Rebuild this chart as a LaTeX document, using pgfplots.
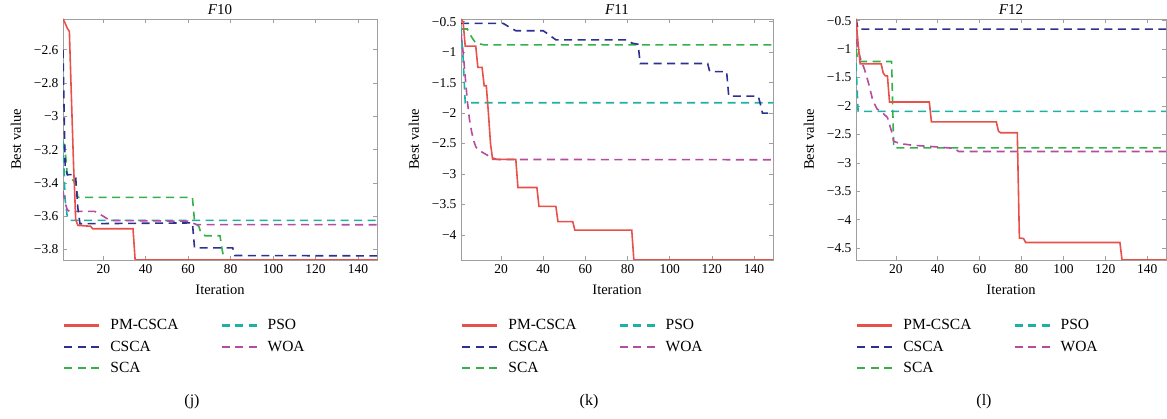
\documentclass[border=0pt]{standalone}
\usepackage{fontspec}
\setmainfont{Liberation Serif}
\usepackage{pgfplots}
\pgfplotsset{compat=1.18}

\definecolor{cPM}{HTML}{E8504A}
\definecolor{cCSCA}{HTML}{2E3090}
\definecolor{cSCA}{HTML}{35B04A}
\definecolor{cPSO}{HTML}{1DB1A6}
\definecolor{cWOA}{HTML}{B54CA0}

\pgfplotsset{
  conv/.style={
    scale only axis, width=312pt, height=241pt,
    xmin=1, xmax=149,
    xtick={20,40,...,140},
    xticklabels={20,40,60,80,100,120,140},
    tick align=inside, major tick length=4pt,
    axis line style={gray!75, line width=0.6pt},
    every tick/.style={gray!75, line width=0.6pt},
    tick label style={font=\fontsize{13.5}{16}\selectfont},
    xticklabel style={yshift=-1pt},
    yticklabel style={xshift=-1pt},
    every axis title shift=0pt,
    title style={at={(axis description cs:0.5,1)}, anchor=center, yshift=9pt,
                 font=\fontsize{15}{18}\selectfont},
    xlabel={Iteration},
    xlabel style={at={(axis description cs:0.5,0)}, anchor=center, yshift=-30pt,
                  font=\fontsize{14.5}{17}\selectfont},
    ylabel={Best value},
    ylabel style={at={([xshift=-47pt]axis description cs:0,0.5)}, anchor=center,
                  font=\fontsize{14.5}{17}\selectfont},
    legend columns=2,
    legend cell align=left,
    legend style={draw=none, fill=none, inner sep=0pt,
      at={([yshift=-57.5pt]axis description cs:0,0)}, anchor=north west,
      font=\fontsize{15.5}{18}\selectfont, row sep=5.5pt,
      /tikz/every odd column/.append style={column sep=8pt},
      /tikz/every even column/.append style={column sep=40pt}},
    legend image code/.code={\draw[#1, line width=2.2pt] (0pt,0pt) -- (35pt,0pt);},
    every axis plot/.append style={line width=1.6pt},
  },
  dsh/.style={dash pattern=on 8pt off 5.5pt},
}

% legend entries shared by the three panels
\newcommand{\convlegend}{%
  \addlegendimage{cPM, solid}\addlegendentry{PM-CSCA}
  \addlegendimage{cPSO, dsh}\addlegendentry{PSO}
  \addlegendimage{cCSCA, dsh}\addlegendentry{CSCA}
  \addlegendimage{cWOA, dsh}\addlegendentry{WOA}
  \addlegendimage{cSCA, dsh}\addlegendentry{SCA}
}

\begin{document}
\begin{tikzpicture}
\path[use as bounding box] (0pt,0pt) rectangle (1167pt,419pt);

% ---------------- F10 ----------------
\begin{axis}[conv, at={(63pt,159pt)}, width=314pt,
  title={\textit{F}10},
  ymin=-3.8628, ymax=-2.415,
  ytick={-3.8,-3.6,-3.4,-3.2,-3,-2.8,-2.6},
  yticklabels={−3.8,−3.6,−3.4,−3.2,−3,−2.8,−2.6}]
\convlegend
\addplot[cSCA, dsh, forget plot] coordinates {
 (1,-3.15) (2,-3.2) (3,-3.35) (7,-3.4) (8,-3.487) (62,-3.487) (63,-3.63)
 (64,-3.65) (65,-3.66) (66,-3.7) (68,-3.717) (75,-3.717) (76,-3.80)
 (77,-3.8628) (150,-3.8628)};
\addplot[cPSO, dsh, forget plot] coordinates {
 (1,-3.15) (2,-3.5) (3,-3.6) (4,-3.625) (150,-3.625)};
\addplot[cWOA, dsh, forget plot] coordinates {
 (1,-3.45) (2,-3.52) (3,-3.56) (4,-3.571) (16,-3.571) (20,-3.6) (23,-3.625)
 (60,-3.63) (64,-3.65) (150,-3.651)};
\addplot[cCSCA, dsh, forget plot] coordinates {
 (1,-2.6) (2,-3.3) (3,-3.35) (6,-3.35) (7,-3.37) (8,-3.55) (9,-3.645)
 (62,-3.64) (63,-3.79) (81,-3.79) (82,-3.836) (150,-3.838)};
\addplot[cPM, solid, forget plot] coordinates {
 (1,-2.415) (2,-2.44) (3,-2.47) (4,-2.49) (5,-2.9) (6,-3.3) (7,-3.62)
 (8,-3.655) (14,-3.66) (15,-3.675) (34,-3.675) (35,-3.8628) (150,-3.8628)};
\end{axis}

% ---------------- F11 ----------------
\begin{axis}[conv, at={(461pt,159pt)}, width=312pt,
  title={\textit{F}11},
  ymin=-4.41, ymax=-0.455,
  ytick={-4,-3.5,-3,-2.5,-2,-1.5,-1,-0.5},
  yticklabels={−4,−3.5,−3,−2.5,−2,−1.5,−1,−0.5}]
\convlegend
\addplot[cSCA, dsh, forget plot] coordinates {
 (1,-0.62) (4,-0.62) (6,-0.75) (8,-0.85) (12,-0.88) (150,-0.88)};
\addplot[cPSO, dsh, forget plot] coordinates {
 (1,-0.6) (2,-1.1) (3,-1.83) (150,-1.83)};
\addplot[cWOA, dsh, forget plot] coordinates {
 (1,-0.7) (2,-1.0) (3,-1.4) (4,-1.8) (5,-2.1) (6,-2.3) (7,-2.45) (8,-2.55)
 (9,-2.6) (12,-2.66) (15,-2.72) (18,-2.76) (150,-2.765)};
\addplot[cCSCA, dsh, forget plot] coordinates {
 (1,-0.527) (21,-0.527) (24,-0.59) (27,-0.648) (40,-0.648) (43,-0.72)
 (46,-0.797) (80,-0.797) (82,-0.85) (85,-0.87) (86,-1.186) (118,-1.186)
 (119,-1.32) (127,-1.32) (128,-1.72) (142,-1.72) (143,-1.85) (144,-2.0)
 (150,-2.0)};
\addplot[cPM, solid, forget plot] coordinates {
 (1,-0.455) (2,-0.5) (3,-0.9) (8,-0.9) (9,-1.25) (11,-1.25) (12,-1.55)
 (13,-1.55) (14,-2.0) (15,-2.5) (16,-2.76) (27,-2.76) (28,-3.22) (37,-3.22)
 (38,-3.53) (46,-3.53) (47,-3.78) (54,-3.78) (55,-3.92) (82,-3.92)
 (83,-4.41) (150,-4.41)};
\end{axis}

% ---------------- F12 ----------------
\begin{axis}[conv, at={(856pt,159pt)}, width=310pt,
  title={\textit{F}12},
  ymin=-4.707, ymax=-0.47,
  ytick={-4.5,-4,-3.5,-3,-2.5,-2,-1.5,-1,-0.5},
  yticklabels={−4.5,−4,−3.5,−3,−2.5,−2,−1.5,−1,−0.5}]
\convlegend
\addplot[cSCA, dsh, forget plot] coordinates {
 (1,-1.0) (2,-1.217) (18,-1.217) (19,-2.735) (150,-2.735)};
\addplot[cPSO, dsh, forget plot] coordinates {
 (1,-1.25) (2,-2.094) (150,-2.094)};
\addplot[cWOA, dsh, forget plot] coordinates {
 (1,-0.82) (2,-1.0) (3,-1.15) (5,-1.35) (7,-1.6) (9,-1.9) (11,-2.05)
 (13,-2.1) (16,-2.2) (18,-2.45) (19,-2.62) (22,-2.66) (28,-2.69) (40,-2.72)
 (48,-2.745) (50,-2.8) (150,-2.8)};
\addplot[cCSCA, dsh, forget plot] coordinates {
 (1,-0.47) (2,-0.647) (150,-0.647)};
\addplot[cPM, solid, forget plot] coordinates {
 (1,-0.47) (2,-0.9) (3,-1.26) (13,-1.26) (14,-1.42) (15,-1.47) (16,-1.47)
 (17,-1.93) (36,-1.93) (37,-2.28) (68,-2.28) (69,-2.44) (70,-2.47) (78,-2.47)
 (79,-4.32) (81,-4.33) (82,-4.40) (127,-4.40) (128,-4.707) (150,-4.707)};
\end{axis}

% panel captions
\node[font=\fontsize{16}{19}\selectfont] at (192pt,17pt) {(j)};
\node[font=\fontsize{16}{19}\selectfont] at (589pt,17pt) {(k)};
\node[font=\fontsize{16}{19}\selectfont] at (984pt,17pt) {(l)};
\end{tikzpicture}
\end{document}
